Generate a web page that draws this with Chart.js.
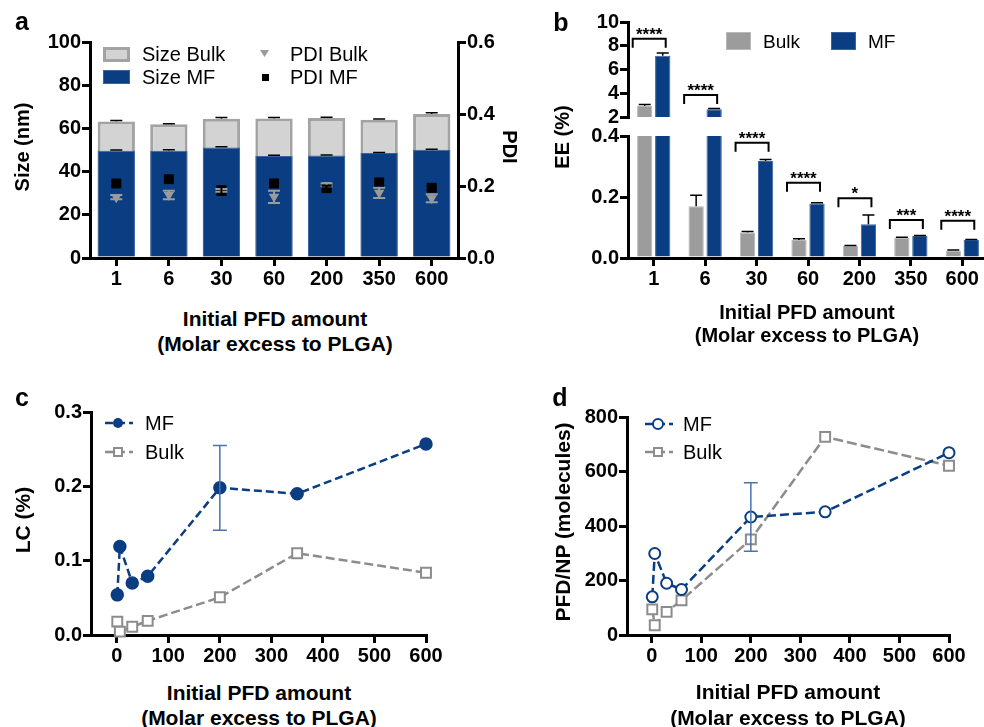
<!DOCTYPE html>
<html>
<head>
<meta charset="utf-8">
<script src="https://cdn.jsdelivr.net/npm/chart.js@4.4.0/dist/chart.umd.min.js"></script>
<style>
html, body { margin: 0; padding: 0; background: #fff; }
body { width: 984px; height: 727px; position: relative; overflow: hidden; font-family: 'Liberation Sans', Arial, sans-serif; color: #000; }
canvas { position: absolute; }
.t { position: absolute; white-space: nowrap; line-height: 1; transform: translate(-50%, -50%); }
.b { font-weight: bold; }
.rl { transform: translate(-50%, -50%) rotate(-90deg); }
.rr { transform: translate(-50%, -50%) rotate(90deg); }
.lg { position: absolute; white-space: nowrap; line-height: 1; transform: translateY(-50%); font-size: 20px; }
.box { position: absolute; box-sizing: border-box; }
svg { position: absolute; overflow: visible; }
</style>
</head>
<body>

<canvas id="chartA" width="540" height="300" style="left:0;top:0"></canvas>
<canvas id="chartB1" width="440" height="130" style="left:560px;top:0"></canvas>
<canvas id="chartB2" width="440" height="180" style="left:560px;top:120px"></canvas>
<canvas id="chartC" width="470" height="300" style="left:0;top:380px"></canvas>
<canvas id="chartD" width="444" height="300" style="left:540px;top:380px"></canvas>

<!-- panel letters -->
<div class="t b" style="left:22px;top:21px;font-size:25px">a</div>
<div class="t b" style="left:561px;top:22px;font-size:25px">b</div>
<div class="t b" style="left:22px;top:397px;font-size:25px">c</div>
<div class="t b" style="left:560px;top:397px;font-size:25px">d</div>

<!-- axis titles -->
<div class="t b rl" style="left:22px;top:147px;font-size:20px">Size (nm)</div>
<div class="t b rr" style="left:510px;top:147px;font-size:20px">PDI</div>
<div class="t b rl" style="left:562px;top:137px;font-size:20px">EE (%)</div>
<div class="t b rl" style="left:22px;top:520px;font-size:21px">LC (%)</div>
<div class="t b rl" style="left:562px;top:522px;font-size:21px">PFD/NP (molecules)</div>

<div class="t b" style="left:275px;top:318px;font-size:21px">Initial PFD amount</div>
<div class="t b" style="left:275px;top:343px;font-size:21px">(Molar excess to PLGA)</div>
<div class="t b" style="left:807px;top:312px;font-size:20px">Initial PFD amount</div>
<div class="t b" style="left:807px;top:335px;font-size:20px">(Molar excess to PLGA)</div>
<div class="t b" style="left:259px;top:692px;font-size:21px">Initial PFD amount</div>
<div class="t b" style="left:259px;top:717px;font-size:21px">(Molar excess to PLGA)</div>
<div class="t b" style="left:788px;top:691px;font-size:21px">Initial PFD amount</div>
<div class="t b" style="left:788px;top:717px;font-size:21px">(Molar excess to PLGA)</div>

<!-- legend a -->
<div class="box" style="left:103px;top:47px;width:27px;height:15px;background:#d3d3d3;border:3px solid #a3a3a3"></div>
<div class="lg" style="left:142px;top:54px">Size Bulk</div>
<div class="box" style="left:103px;top:70px;width:27px;height:14px;background:#0b3d82;border:1px solid #3a63a0"></div>
<div class="lg" style="left:142px;top:77px">Size MF</div>
<svg style="left:260px;top:50px" width="10" height="8"><polygon points="0,0 9,0 4.5,7" fill="#9b9b9b"/></svg>
<div class="lg" style="left:290px;top:54px">PDI Bulk</div>
<div class="box" style="left:262px;top:74px;width:7px;height:7px;background:#000"></div>
<div class="lg" style="left:290px;top:77px">PDI MF</div>

<!-- legend b -->
<div class="box" style="left:726px;top:32px;width:25px;height:18px;background:#9c9c9c;border:1px solid #b8b8b8"></div>
<div class="lg" style="left:763px;top:41px;font-size:19px">Bulk</div>
<div class="box" style="left:831px;top:32px;width:25px;height:18px;background:#0b3d82;border:1px solid #3a63a0"></div>
<div class="lg" style="left:868px;top:41px;font-size:19px">MF</div>

<!-- legend c -->
<svg style="left:105px;top:413px" width="30" height="50">
  <line x1="0" y1="10" x2="28" y2="10" stroke="#0b3d82" stroke-width="2.5" stroke-dasharray="8,4"/>
  <circle cx="13" cy="10" r="5" fill="#0b3d82"/>
  <line x1="0" y1="39" x2="28" y2="39" stroke="#8c8c8c" stroke-width="2.5" stroke-dasharray="8,4"/>
  <rect x="9" y="35" width="8" height="8" fill="#fff" stroke="#8c8c8c" stroke-width="2"/>
</svg>
<div class="lg" style="left:145px;top:423px">MF</div>
<div class="lg" style="left:145px;top:452px">Bulk</div>

<!-- legend d -->
<svg style="left:645px;top:414px" width="30" height="50">
  <line x1="0" y1="10" x2="28" y2="10" stroke="#0b3d82" stroke-width="2.5" stroke-dasharray="8,4"/>
  <circle cx="13" cy="10" r="5" fill="#fff" stroke="#0b3d82" stroke-width="2"/>
  <line x1="0" y1="38" x2="28" y2="38" stroke="#8c8c8c" stroke-width="2.5" stroke-dasharray="8,4"/>
  <rect x="9" y="34" width="8" height="8" fill="#fff" stroke="#8c8c8c" stroke-width="2"/>
</svg>
<div class="lg" style="left:683px;top:424px">MF</div>
<div class="lg" style="left:683px;top:452px">Bulk</div>

<script>
// Panel a / b categories
const doseLabels = ['1', '6', '30', '60', '200', '350', '600'];

// a: particle size (nm) and PDI
const sizeBulk = [63.2, 61.9, 64.5, 64.6, 64.8, 64.0, 66.7];
const sizeBulkErr = [0.4, 0.3, 0.6, 0.5, 0.4, 0.4, 0.6];
const sizeMF = [49.7, 49.7, 51.2, 47.2, 47.4, 48.6, 50.1];
const sizeMFErr = [0.3, 0.4, 0.3, 0.4, 0.3, 0.3, 0.3];
const pdiBulk = [0.169, 0.175, 0.188, 0.170, 0.203, 0.181, 0.166];
const pdiBulkErr = [0.006, 0.012, 0.004, 0.017, 0.004, 0.014, 0.011];
const pdiMF = [0.207, 0.219, 0.187, 0.207, 0.194, 0.210, 0.195];
const pdiMFErr = [0.006, 0.006, 0.012, 0.005, 0.007, 0.008, 0.006];

// b: encapsulation efficiency (%)
const eeBulk = [2.93, 0.170, 0.084, 0.059, 0.039, 0.066, 0.024];
const eeBulkErr = [0.13, 0.036, 0.003, 0.004, 0.002, 0.002, 0.002];
const eeMF = [7.15, 2.65, 0.318, 0.179, 0.111, 0.072, 0.059];
const eeMFErr = [0.25, 0.06, 0.005, 0.002, 0.03, 0.002, 0.002];
const sigLabels = ['****', '****', '****', '****', '*', '***', '****'];
const sigLevels = [8.6, 3.85, 0.378, 0.247, 0.196, 0.125, 0.122];

// c / d: loading vs initial amount
const pfdX = [1, 6, 30, 60, 200, 350, 600];
const xTicks = [0, 100, 200, 300, 400, 500, 600];
const lcMF = [0.054, 0.119, 0.070, 0.079, 0.198, 0.190, 0.257];
const lcMFErr = [0, 0, 0, 0, 0.057, 0, 0];
const lcBulk = [0.018, 0.0045, 0.011, 0.019, 0.0507, 0.110, 0.0838];
const npMF = [140, 299, 190, 167, 433, 452, 669];
const npMFErr = [0, 0, 0, 0, 126, 0, 0];
const npBulk = [94, 36, 85, 127, 351, 727, 621];

const BLUE = '#0b3d82';
const GREY = '#8c8c8c';

Chart.defaults.font.family = "'Liberation Sans', Arial, sans-serif";
Chart.defaults.color = '#000';
Chart.defaults.animation = false;
Chart.defaults.plugins.legend.display = false;
Chart.defaults.plugins.tooltip.enabled = false;

// error bars drawn through each chart's own scales
const errorBarPlugin = {
    id: 'errorBars',
    afterDatasetsDraw(chart, args, opts) {
        if (!opts.sets) return;
        const ctx = chart.ctx;
        const area = chart.chartArea;
        ctx.save();
        ctx.beginPath();
        ctx.rect(area.left - 2, area.top, area.right - area.left + 12, area.bottom - area.top);
        ctx.clip();
        opts.sets.forEach(set => {
            const meta = chart.getDatasetMeta(set.dataset);
            const ds = chart.data.datasets[set.dataset];
            const yScale = chart.scales[meta.yAxisID];
            ctx.strokeStyle = set.color;
            ctx.lineWidth = set.width;
            meta.data.forEach((el, i) => {
                const e = set.err[i];
                if (!e) return;
                const raw = ds.data[i];
                const v = typeof raw === 'object' ? raw.y : raw;
                const x = el.x;
                const hi = yScale.getPixelForValue(v + e);
                const lo = yScale.getPixelForValue(set.upOnly ? v : v - e);
                ctx.beginPath();
                ctx.moveTo(x, lo);
                ctx.lineTo(x, hi);
                ctx.moveTo(x - set.cap, hi);
                ctx.lineTo(x + set.cap, hi);
                if (!set.upOnly) {
                    ctx.moveTo(x - set.cap, lo);
                    ctx.lineTo(x + set.cap, lo);
                }
                ctx.stroke();
            });
        });
        ctx.restore();
    }
};

// significance brackets for panel b
const bracketPlugin = {
    id: 'sigBrackets',
    afterDatasetsDraw(chart, args, opts) {
        if (!opts.levels) return;
        const ctx = chart.ctx;
        const y = chart.scales.y;
        const m0 = chart.getDatasetMeta(0);
        const m1 = chart.getDatasetMeta(1);
        ctx.save();
        ctx.strokeStyle = '#000';
        ctx.lineWidth = 2;
        ctx.fillStyle = '#000';
        ctx.font = "bold 17px 'Liberation Sans', Arial, sans-serif";
        ctx.textAlign = 'center';
        ctx.textBaseline = 'alphabetic';
        opts.levels.forEach((lv, i) => {
            if (lv < y.min || lv > y.max) return;
            const py = y.getPixelForValue(lv);
            const x0 = m0.data[i].x - 12;
            const x1 = m1.data[i].x + 3;
            ctx.beginPath();
            ctx.moveTo(x0, py + 9);
            ctx.lineTo(x0, py);
            ctx.lineTo(x1, py);
            ctx.lineTo(x1, py + 9);
            ctx.stroke();
            ctx.fillText(opts.labels[i], (x0 + x1) / 2, py + 1);
        });
        ctx.restore();
    }
};

Chart.register(errorBarPlugin, bracketPlugin);

// shared Prism-like axis look
function axis(extra, fit) {
    const base = {
        border: { color: '#000', width: 3 },
        grid: { drawOnChartArea: false, color: '#000', lineWidth: 3, tickLength: 8, offset: false },
        ticks: { color: '#000', font: { size: 20, weight: 'bold' }, padding: 1, maxRotation: 0, autoSkip: false },
        afterFit: fit
    };
    return Object.assign(base, extra);
}

function fmt1(v) { return Number(v).toFixed(1); }

// ---------- a ----------
new Chart(document.getElementById('chartA'), {
    type: 'bar',
    data: {
        labels: doseLabels,
        datasets: [
            { type: 'line', label: 'PDI MF', data: pdiMF, yAxisID: 'yR', showLine: false,
              pointStyle: 'rect', pointRadius: 7, pointBorderWidth: 0,
              backgroundColor: '#000', borderColor: '#000', order: 1 },
            { type: 'line', label: 'PDI Bulk', data: pdiBulk, yAxisID: 'yR', showLine: false,
              pointStyle: 'triangle', pointRotation: 180, pointRadius: 6, pointBorderWidth: 0,
              backgroundColor: '#9b9b9b', borderColor: '#9b9b9b', order: 2 },
            { label: 'Size MF', data: sizeMF, yAxisID: 'y', backgroundColor: BLUE,
              borderColor: '#3a63a0', borderWidth: 1, grouped: false,
              barPercentage: 0.71, categoryPercentage: 1, order: 3 },
            { label: 'Size Bulk', data: sizeBulk, yAxisID: 'y', backgroundColor: '#d3d3d3',
              borderColor: '#a3a3a3', borderWidth: 3, borderSkipped: false, grouped: false,
              barPercentage: 0.71, categoryPercentage: 1, order: 4 }
        ]
    },
    options: {
        responsive: false,
        devicePixelRatio: 1,
        layout: { padding: { top: 42, left: 0, right: 0, bottom: 0 } },
        scales: {
            x: axis({}, s => { s.height = 42; }),
            y: axis({ min: 0, max: 100 }, s => { s.width = 90; }),
            yR: axis({ position: 'right', min: 0, max: 0.6 }, s => { s.width = 82; })
        },
        plugins: {
            errorBars: { sets: [
                { dataset: 3, err: sizeBulkErr, upOnly: true, color: '#000', width: 1.5, cap: 6 },
                { dataset: 2, err: sizeMFErr, upOnly: true, color: '#000', width: 1.5, cap: 6 },
                { dataset: 1, err: pdiBulkErr, color: '#9b9b9b', width: 2, cap: 6 },
                { dataset: 0, err: pdiMFErr, color: '#000', width: 2, cap: 5 }
            ] }
        }
    }
});
Chart.getChart('chartA').options.scales.y.ticks.stepSize = 20;
Chart.getChart('chartA').options.scales.yR.ticks.stepSize = 0.2;
Chart.getChart('chartA').options.scales.yR.ticks.callback = fmt1;
Chart.getChart('chartA').update();

// ---------- b (broken axis: two stacked charts) ----------
function eeDatasets() {
    return [
        { label: 'Bulk', data: eeBulk, backgroundColor: '#9c9c9c', borderColor: '#b8b8b8',
          borderWidth: 1, barPercentage: 0.85, categoryPercentage: 0.7 },
        { label: 'MF', data: eeMF, backgroundColor: BLUE, borderColor: '#3a63a0',
          borderWidth: 1, barPercentage: 0.85, categoryPercentage: 0.7 }
    ];
}
function eeErrors() {
    return { sets: [
        { dataset: 0, err: eeBulkErr, upOnly: true, color: '#000', width: 1.5, cap: 6 },
        { dataset: 1, err: eeMFErr, upOnly: true, color: '#000', width: 1.5, cap: 6 }
    ] };
}

new Chart(document.getElementById('chartB1'), {
    type: 'bar',
    data: { labels: doseLabels, datasets: eeDatasets() },
    options: {
        responsive: false,
        devicePixelRatio: 1,
        layout: { padding: { top: 22, left: 0, right: 12, bottom: 13 } },
        scales: {
            x: { display: false },
            y: axis({ min: 2, max: 10 }, s => { s.width = 68; })
        },
        plugins: {
            errorBars: eeErrors(),
            sigBrackets: { levels: sigLevels, labels: sigLabels }
        }
    }
});
Chart.getChart('chartB1').options.scales.y.ticks.stepSize = 2;
Chart.getChart('chartB1').update();

new Chart(document.getElementById('chartB2'), {
    type: 'bar',
    data: { labels: doseLabels, datasets: eeDatasets() },
    options: {
        responsive: false,
        devicePixelRatio: 1,
        layout: { padding: { top: 16, left: 0, right: 12, bottom: 0 } },
        scales: {
            x: axis({}, s => { s.height = 42; }),
            y: axis({ min: 0, max: 0.4 }, s => { s.width = 68; })
        },
        plugins: {
            errorBars: eeErrors(),
            sigBrackets: { levels: sigLevels, labels: sigLabels }
        }
    }
});
Chart.getChart('chartB2').options.scales.y.ticks.stepSize = 0.2;
Chart.getChart('chartB2').options.scales.y.ticks.callback = fmt1;
Chart.getChart('chartB2').update();

// ---------- c / d ----------
function pts(ys) { return pfdX.map((x, i) => ({ x: x, y: ys[i] })); }

function linearX(fit) {
    const a = axis({ type: 'linear', min: -50, max: 600 }, fit);
    a.afterBuildTicks = s => { s.ticks = xTicks.map(v => ({ value: v })); };
    return a;
}

new Chart(document.getElementById('chartC'), {
    type: 'line',
    data: {
        datasets: [
            { label: 'MF', data: pts(lcMF), borderColor: BLUE, backgroundColor: BLUE,
              borderWidth: 2.5, borderDash: [8, 4], pointRadius: 6, pointBorderWidth: 1.5,
              pointBackgroundColor: BLUE, pointBorderColor: BLUE, clip: false, order: 1 },
            { label: 'Bulk', data: pts(lcBulk), borderColor: GREY, backgroundColor: '#fff',
              borderWidth: 2.5, borderDash: [9, 4], pointStyle: 'rect', pointRadius: 7,
              pointBorderWidth: 2, pointBackgroundColor: '#fff', pointBorderColor: GREY,
              clip: false, order: 2 }
        ]
    },
    options: {
        responsive: false,
        devicePixelRatio: 1,
        layout: { padding: { top: 32, left: 0, right: 44, bottom: 0 } },
        scales: {
            x: linearX(s => { s.height = 45; }),
            y: axis({ min: 0, max: 0.3 }, s => { s.width = 91; })
        },
        plugins: {
            errorBars: { sets: [ { dataset: 0, err: lcMFErr, color: '#4a72ad', width: 1.5, cap: 7 } ] }
        }
    }
});
Chart.getChart('chartC').options.scales.y.ticks.stepSize = 0.1;
Chart.getChart('chartC').options.scales.y.ticks.callback = fmt1;
Chart.getChart('chartC').update();

new Chart(document.getElementById('chartD'), {
    type: 'line',
    data: {
        datasets: [
            { label: 'MF', data: pts(npMF), borderColor: BLUE, backgroundColor: '#fff',
              borderWidth: 2.5, borderDash: [9, 4], pointRadius: 5.5, pointBorderWidth: 2,
              pointBackgroundColor: '#fff', pointBorderColor: BLUE, clip: false, order: 1 },
            { label: 'Bulk', data: pts(npBulk), borderColor: GREY, backgroundColor: '#fff',
              borderWidth: 2.5, borderDash: [10, 4], pointStyle: 'rect', pointRadius: 7,
              pointBorderWidth: 2, pointBackgroundColor: '#fff', pointBorderColor: GREY,
              clip: false, order: 2 }
        ]
    },
    options: {
        responsive: false,
        devicePixelRatio: 1,
        layout: { padding: { top: 37, left: 0, right: 35, bottom: 0 } },
        scales: {
            x: linearX(s => { s.height = 45; }),
            y: axis({ min: 0, max: 800 }, s => { s.width = 87; })
        },
        plugins: {
            errorBars: { sets: [ { dataset: 0, err: npMFErr, color: '#4a72ad', width: 1.5, cap: 7 } ] }
        }
    }
});
Chart.getChart('chartD').options.scales.y.ticks.stepSize = 200;
Chart.getChart('chartD').update();
</script>
</body>
</html>
